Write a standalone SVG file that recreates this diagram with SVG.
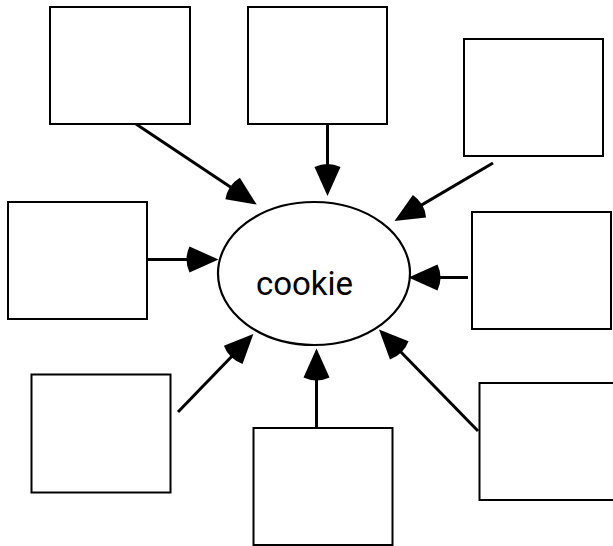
<svg xmlns="http://www.w3.org/2000/svg" width="613" height="546" viewBox="0 0 613 546">
<style>
.box{fill:#fff;stroke:#000;stroke-width:2}
.ell{fill:#fff;stroke:#000;stroke-width:2.2}
.con{fill:none;stroke:#000;stroke-width:3;marker-end:url(#ah)}
.lbl{font-family:Roboto,"Liberation Sans",sans-serif;font-size:33px;fill:#000}
</style>
<defs>
<marker id="ah" markerUnits="userSpaceOnUse" markerWidth="60" markerHeight="60" refX="0" refY="0" orient="auto" overflow="visible">
<path d="M10,0 L-19,-13 Q-25,0 -19,13 Z" fill="#000"/>
</marker>
</defs>
<rect width="613" height="546" fill="#fff"/>
<g id="connectors">
<line class="con" x1="136" y1="124" x2="248.4" y2="199"/>
<line class="con" x1="327.5" y1="124" x2="327.5" y2="186"/>
<line class="con" x1="493" y1="163" x2="403.1" y2="215.9"/>
<line class="con" x1="147" y1="259.5" x2="208.5" y2="259.5"/>
<line class="con" x1="468" y1="277.5" x2="418.5" y2="277.5"/>
<line class="con" x1="178" y1="412" x2="246.4" y2="341.2"/>
<line class="con" x1="316.5" y1="428" x2="316.5" y2="358.5"/>
<line class="con" x1="478" y1="431" x2="386" y2="336.7"/>
</g>
<g id="n1"><rect class="box" x="50" y="7" width="140" height="117"/></g>
<g id="n2"><rect class="box" x="248" y="7" width="139" height="117"/></g>
<g id="n3"><rect class="box" x="464" y="39" width="139" height="117"/></g>
<g id="n4"><rect class="box" x="8" y="202" width="139" height="117"/></g>
<g id="n5"><rect class="box" x="472" y="212" width="139" height="117"/></g>
<g id="n6"><rect class="box" x="31.5" y="374.5" width="139" height="118"/></g>
<g id="n7"><rect class="box" x="253.5" y="428" width="139" height="117"/></g>
<g id="n8"><rect class="box" x="479.5" y="383" width="140" height="117"/></g>
<g id="cookie">
<ellipse class="ell" cx="314" cy="273.5" rx="96" ry="71.5"/>
<text class="lbl" x="304.5" y="295" text-anchor="middle">cookie</text>
</g>
</svg>
